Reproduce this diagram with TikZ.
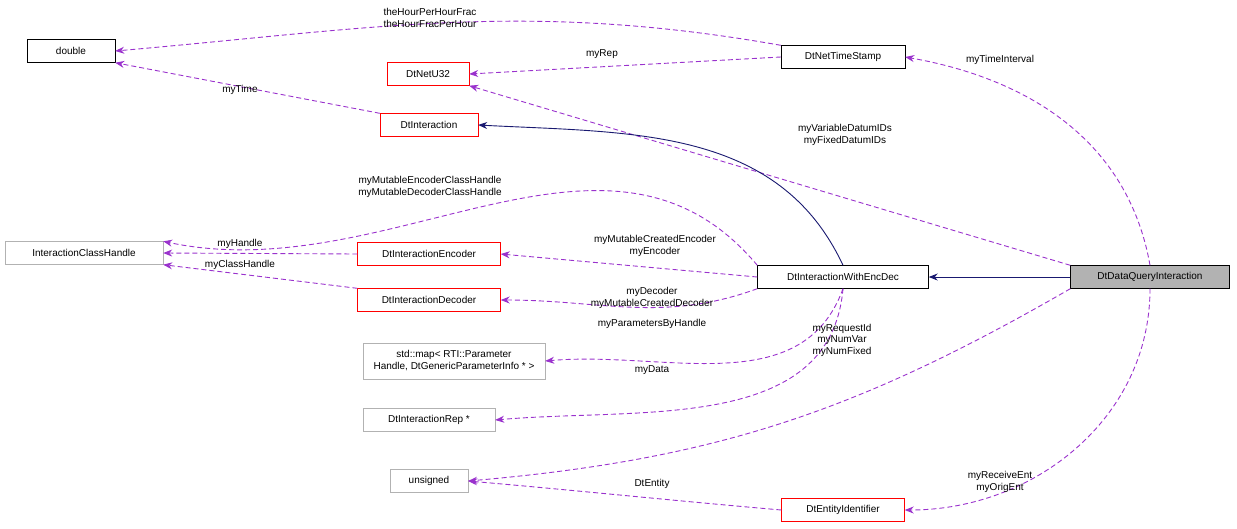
\documentclass[tikz,border=0pt]{standalone}
\usepackage{fontspec}
\setmainfont{Liberation Sans}
\usetikzlibrary{arrows.meta}
\definecolor{ed}{HTML}{9A32CD}
\definecolor{nv}{HTML}{191970}
\begin{document}
\begin{tikzpicture}[x=1pt,y=-1pt,font=\fontsize{10}{12}\selectfont,
 box/.style={draw,rectangle,inner sep=2pt,minimum height=23pt,align=center},
 rb/.style={box,draw=red},
 gb/.style={box,draw=black!30},
 dep/.style={draw=ed,line width=0.9pt,dash pattern=on 5pt off 3pt,-{Stealth[length=9pt,width=7pt]}},
 inh/.style={draw=nv,line width=0.9pt,-{Stealth[length=9pt,width=7pt]}},
 lab/.style={align=center,inner sep=1pt,font=\fontsize{10}{11.5}\selectfont}]
\useasboundingbox (0,0) rectangle (1237,528);
\node[box,minimum width=88pt] (dbl) at (71,51) {double};
\node[box,minimum width=124pt] (nts) at (843,57) {DtNetTimeStamp};
\node[rb,minimum width=82pt] (u32) at (428,74) {DtNetU32};
\node[rb,minimum width=98pt] (di) at (429,125) {DtInteraction};
\node[gb,minimum width=158pt] (ich) at (84,253) {InteractionClassHandle};
\node[rb,minimum width=143pt] (enc) at (429,254) {DtInteractionEncoder};
\node[rb,minimum width=143pt] (dec) at (429,300) {DtInteractionDecoder};
\node[box,minimum width=171pt] (wed) at (843,277) {DtInteractionWithEncDec};
\node[box,fill=black!30,minimum width=159pt] (dq) at (1150,277) {DtDataQueryInteraction};
\node[gb,minimum width=182pt,minimum height=36pt] (map) at (454,361) {std::map< RTI::Parameter\\Handle, DtGenericParameterInfo * >};
\node[gb,minimum width=132pt] (rep) at (429,420) {DtInteractionRep *};
\node[gb,minimum width=78pt] (uns) at (429,481) {unsigned};
\node[rb,minimum width=123pt] (eid) at (843,510) {DtEntityIdentifier};

\draw[dep] (nts.north west) to[out=170,in=5] (dbl.east);
\node[lab] at (430,18) {theHourPerHourFrac\\theHourFracPerHour};
\draw[dep] (nts.west) -- (u32.east);
\node[lab] at (602,54) {myRep};
\draw[dep] (di.north west) -- (dbl.south east);
\node[lab] at (240,90) {myTime};
\draw[dep] (dq.north) to[out=100,in=-10] (nts.east);
\node[lab] at (1000,60) {myTimeInterval};
\draw[dep] (dq.north west) -- (u32.south east);
\node[lab] at (845,135) {myVariableDatumIDs\\myFixedDatumIDs};
\draw[inh] (wed.north) to[out=115,in=-3] (di.east);
\draw[inh] (dq.west) -- (wed.east);
\draw[dep] (wed.north west) to[out=130,in=-12] (ich.north east);
\node[lab] at (430,187) {myMutableEncoderClassHandle\\myMutableDecoderClassHandle};
\draw[dep] (enc.west) -- (ich.east);
\node[lab] at (240,244) {myHandle};
\draw[dep] (dec.north west) -- (ich.south east);
\node[lab] at (240,265) {myClassHandle};
\draw[dep] (wed.west) -- (enc.east);
\node[lab] at (655,246) {myMutableCreatedEncoder\\myEncoder};
\draw[dep] (wed.south west) to[out=-160,in=0] (dec.east);
\node[lab] at (652,298) {myDecoder\\myMutableCreatedDecoder};
\draw[dep] (wed.south) to[out=-110,in=5] (map.east);
\node[lab] at (652,324) {myParametersByHandle};
\draw[dep] (wed.south) to[out=-95,in=5] (rep.east);
\node[lab] at (652,370) {myData};
\draw[dep] (dq.south west) to[out=-150,in=5] (uns.east);
\node[lab] at (842,340) {myRequestId\\myNumVar\\myNumFixed};
\draw[dep] (eid.west) to[out=175,in=-5] (uns.east);
\node[lab] at (652,484) {DtEntity};
\draw[dep] (dq.south) to[out=-90,in=0] (eid.east);
\node[lab] at (1000,482) {myReceiveEnt\\myOrigEnt};
\end{tikzpicture}
\end{document}
